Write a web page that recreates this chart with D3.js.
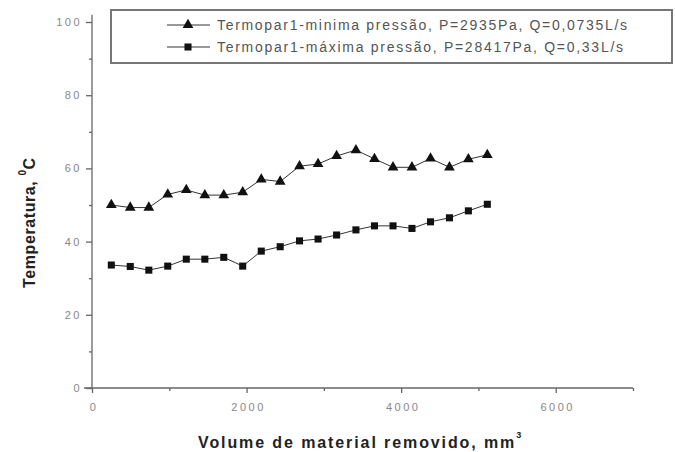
<!DOCTYPE html>
<html>
<head>
<meta charset="utf-8">
<script src="https://cdn.jsdelivr.net/npm/d3@7"></script>
<style>
  body { margin: 0; background: #fff; }
  svg { display: block; font-family: Arial, "Liberation Sans", sans-serif; }
</style>
</head>
<body>
<div class="svg-container"></div>
<script>
// volume removed (mm3)
var volume = [250, 495, 735, 980, 1220, 1460, 1705, 1950, 2190, 2435, 2685,
              2925, 3165, 3415, 3655, 3895, 4140, 4380, 4625, 4870, 5115];
// temperature, minimum pressure (triangles)
var tempMin = [50.0, 49.3, 49.3, 52.9, 54.1, 52.7, 52.7, 53.5, 57.0, 56.4, 60.6,
               61.2, 63.4, 65.0, 62.6, 60.3, 60.3, 62.7, 60.3, 62.5, 63.7];
// temperature, maximum pressure (squares)
var tempMax = [33.6, 33.2, 32.2, 33.3, 35.2, 35.2, 35.7, 33.3, 37.4, 38.6, 40.2,
               40.7, 41.8, 43.2, 44.3, 44.3, 43.6, 45.4, 46.5, 48.4, 50.2];
var xTicks = [0, 2000, 4000, 6000];
var yTicks = [0, 20, 40, 60, 80, 100];
var legendLabels = ["Termopar1-minima pressão, P=2935Pa, Q=0,0735L/s",
                    "Termopar1-máxima pressão, P=28417Pa, Q=0,33L/s"];

var drawWidth = 675, drawHeight = 452;
var margin = { top: 22, right: 42, bottom: 64, left: 92 };
var width = drawWidth - margin.left - margin.right;
var height = drawHeight - margin.top - margin.bottom;

var svg = d3.select(".svg-container").append("svg")
            .attr("width", drawWidth)
            .attr("height", drawHeight);
var g = svg.append("g").attr("transform", "translate(" + margin.left + "," + margin.top + ")");

var x = d3.scaleLinear().domain([0, 7000]).range([0, width]);
var y = d3.scaleLinear().domain([0, 100]).range([height, 0]);

var axisColor = "#666";

// y axis, minor ticks halfway between labelled ones
var yAxis = g.append("g")
  .call(d3.axisLeft(y).tickValues(d3.range(0, 101, 10)).tickSize(6).tickPadding(4)
    .tickFormat(function(d) { return yTicks.indexOf(d) >= 0 ? d : ""; }));
yAxis.select(".domain").attr("d", "M0," + (y(102)) + "V" + height);
yAxis.selectAll(".tick line").filter(function(d) { return yTicks.indexOf(d) < 0; }).attr("x2", -3);

var xAxis = g.append("g")
  .attr("transform", "translate(0," + height + ")")
  .call(d3.axisBottom(x).tickValues(d3.range(0, 7001, 1000)).tickSize(5).tickPadding(10)
    .tickFormat(function(d) { return xTicks.indexOf(d) >= 0 ? d : ""; }));
xAxis.select(".domain").attr("d", "M-8,0H" + width);
xAxis.selectAll(".tick line").filter(function(d) { return xTicks.indexOf(d) < 0; }).attr("y2", 3);
xAxis.selectAll(".tick text").attr("dx", 1.5);

svg.selectAll(".domain, .tick line").attr("stroke", axisColor).attr("stroke-width", 1.3);
svg.selectAll(".tick text").attr("fill", "#888").attr("font-size", 11).attr("letter-spacing", 2.5);

// axis titles
svg.append("text")
  .attr("x", 198).attr("y", 448)
  .attr("font-size", 16).attr("font-weight", "bold").attr("fill", "#222")
  .attr("letter-spacing", 1.9)
  .text("Volume de material removido, mm")
  .append("tspan").attr("font-size", 9).attr("dy", -10).text("3");

svg.append("text")
  .attr("transform", "translate(35,288) rotate(-90)")
  .attr("font-size", 16).attr("font-weight", "bold").attr("fill", "#222")
  .attr("letter-spacing", 0.6)
  .text("Temperatura, ")
  .append("tspan").attr("font-size", 10).attr("dy", -9).text("0")
  .select(function() { return this.parentNode; })
  .append("tspan").attr("dy", 9).text("C");

// series
var series = [
  { values: tempMin, shape: d3.symbolTriangle, size: 50 },
  { values: tempMax, shape: d3.symbolSquare, size: 50 }
];
var line = d3.line().x(function(d, i) { return x(volume[i]); }).y(function(d) { return y(d); });

series.forEach(function(s) {
  g.append("path")
    .attr("d", line(s.values))
    .attr("fill", "none").attr("stroke", "#333").attr("stroke-width", 1);
  g.selectAll(null).data(s.values).enter().append("path")
    .attr("d", d3.symbol().type(s.shape).size(s.size))
    .attr("transform", function(d, i) { return "translate(" + x(volume[i]) + "," + y(d) + ")"; })
    .attr("fill", "#111");
});

// legend
var legend = svg.append("g");
legend.append("rect")
  .attr("x", 111).attr("y", 10).attr("width", 561).attr("height", 53)
  .attr("fill", "#fff").attr("stroke", "#777").attr("stroke-width", 2);
legendLabels.forEach(function(label, i) {
  var ly = 25 + i * 22;
  legend.append("line").attr("x1", 167).attr("x2", 210).attr("y1", ly).attr("y2", ly)
    .attr("stroke", "#333").attr("stroke-width", 1);
  legend.append("path")
    .attr("d", d3.symbol().type(series[i].shape).size(series[i].size))
    .attr("transform", "translate(188," + ly + ")").attr("fill", "#111");
  legend.append("text")
    .attr("x", 217).attr("y", ly + 5)
    .attr("font-size", 14).attr("fill", "#555")
    .attr("textLength", i === 0 ? 410 : 406).attr("lengthAdjust", "spacing")
    .text(label);
});
</script>
</body>
</html>
